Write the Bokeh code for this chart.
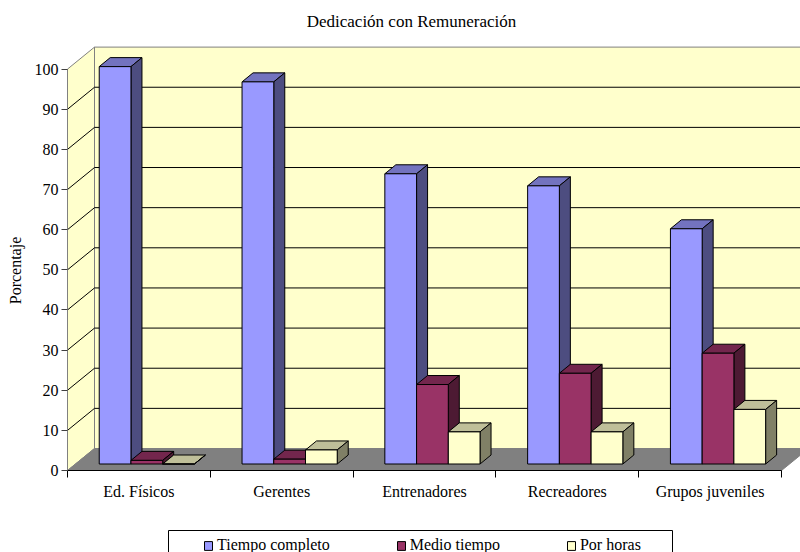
from math import pi
from bokeh.plotting import figure
from bokeh.models import (ColumnDataSource, FixedTicker, Legend, LegendItem, Label,
                          BoxAnnotation, LinearAxis, Range1d)
from bokeh.embed import file_html
from bokeh.resources import INLINE

categories = ["Ed. Físicos", "Gerentes", "Entrenadores", "Recreadores", "Grupos juveniles"]
series_names = ["Tiempo completo", "Medio tiempo", "Por horas"]
tiempo_completo = [99.0, 95.2, 72.3, 69.3, 58.6]
medio_tiempo = [0.9, 1.2, 19.8, 22.6, 27.6]
por_horas = [0.0, 3.5, 8.0, 8.0, 13.6]
y_ticks = list(range(0, 101, 10))

front = ["#9999FF", "#993366", "#FFFFCC"]
side = ["#4D4D80", "#4D1A33", "#808066"]
top = ["#7373BF", "#73264D", "#BFBF99"]

SERIF = "Liberation Serif"
PX_X = 142.8      # pixels per category
PX_Y = 4.014      # pixels per percent
WALL_DX, WALL_DY = 27 / PX_X, 22 / PX_Y
BAR_DX, BAR_DY = 11 / PX_X, 9 / PX_Y
BAR_W = 1 / 4.5
BAR_BASE = 6.5 / PX_Y
n = len(categories)

W, H = 800, 552
ORIGIN_X, ORIGIN_Y = 67, 470
p = figure(width=W, height=H, frame_width=W, frame_height=H,
           min_border=0,
           x_range=Range1d(-ORIGIN_X / PX_X, (W - ORIGIN_X) / PX_X),
           y_range=Range1d(-(H - ORIGIN_Y) / PX_Y, ORIGIN_Y / PX_Y),
           x_axis_type=None, y_axis_type=None,
           output_backend="svg", toolbar_location=None, title=None)
p.grid.visible = False
p.outline_line_color = None

# walls and floor
p.patch([WALL_DX, n + WALL_DX, n + WALL_DX, WALL_DX], [WALL_DY, WALL_DY, 100 + WALL_DY, 100 + WALL_DY],
        fill_color="#FFFFCC", line_color="#808080", line_width=1)
p.patch([0, WALL_DX, WALL_DX, 0], [0, WALL_DY, 100 + WALL_DY, 100],
        fill_color="#FFFFCC", line_color="#808080", line_width=1)
p.patch([0, n, n + WALL_DX, WALL_DX], [0, 0, WALL_DY, WALL_DY],
        fill_color="#808080", line_color="#808080", line_width=1)

# gridlines on the walls
grid_xs, grid_ys = [], []
for t in y_ticks[1:-1]:
    grid_xs.append([0, WALL_DX, n + WALL_DX])
    grid_ys.append([t, t + WALL_DY, t + WALL_DY])
p.multi_line(grid_xs, grid_ys, line_color="#000000", line_width=1)

# bars
xs, ys, cols = [], [], []
for c in range(n):
    for s, vals in enumerate([tiempo_completo, medio_tiempo, por_horas]):
        x0 = c + BAR_W * (s + 1)
        x1 = x0 + BAR_W
        y0 = BAR_BASE
        y1 = BAR_BASE + vals[c]
        xs.append([x0, x1, x1 + BAR_DX, x0 + BAR_DX])
        ys.append([y1, y1, y1 + BAR_DY, y1 + BAR_DY])
        cols.append(top[s])
        xs.append([x1, x1 + BAR_DX, x1 + BAR_DX, x1])
        ys.append([y0, y0 + BAR_DY, y1 + BAR_DY, y1])
        cols.append(side[s])
        xs.append([x0, x1, x1, x0])
        ys.append([y0, y0, y1, y1])
        cols.append(front[s])
p.patches("xs", "ys", source=ColumnDataSource(dict(xs=xs, ys=ys, c=cols)),
          fill_color="c", line_color="#000000", line_width=1)

# axes, pinned to the data origin inside the full-canvas frame
yaxis = LinearAxis(ticker=FixedTicker(ticks=y_ticks), bounds=(0, 100), fixed_location=0)
yaxis.major_label_text_font = SERIF
yaxis.major_label_text_font_size = "16px"
yaxis.major_label_text_color = "#000000"
yaxis.major_tick_in = 0
yaxis.major_tick_out = 6
yaxis.major_tick_line_color = "#404040"
yaxis.minor_tick_line_color = None
yaxis.axis_line_color = "#808080"
yaxis.major_label_standoff = 3
p.add_layout(yaxis, "left")

centers = [i + 0.5 for i in range(n)]
xaxis = LinearAxis(ticker=FixedTicker(ticks=centers, minor_ticks=list(range(n + 1))), bounds=(0, n),
                   fixed_location=0)
xaxis.major_label_overrides = {c: name for c, name in zip(centers, categories)}
xaxis.major_label_text_font = SERIF
xaxis.major_label_text_font_size = "16px"
xaxis.major_label_text_color = "#000000"
xaxis.major_tick_line_color = None
xaxis.minor_tick_in = 0
xaxis.minor_tick_out = 7
xaxis.minor_tick_line_color = "#000000"
xaxis.axis_line_color = "#000000"
xaxis.major_label_standoff = 5
p.add_layout(xaxis, "below")

# title and y label
title = Label(x=411, y=H - 21, x_units="screen", y_units="screen", text="Dedicación con Remuneración",
              text_font=SERIF, text_font_size="17px", text_align="center", text_baseline="middle",
              text_color="#000000")
p.add_layout(title)
ylabel = Label(x=15, y=H - 270, x_units="screen", y_units="screen", text="Porcentaje", angle=pi / 2,
               text_font=SERIF, text_font_size="16px", text_align="center", text_baseline="middle",
               text_color="#000000")
p.add_layout(ylabel)

# legend
box = BoxAnnotation(left=168, right=672, top=H - 530, bottom=-10, left_units="screen", right_units="screen",
                    top_units="screen", bottom_units="screen", fill_color="#FFFFFF", fill_alpha=1,
                    line_color="#000000", line_alpha=1, line_width=1)
p.add_layout(box)
nan = float("nan")
items = []
for name, fc in zip(series_names, front):
    r = p.quad(left=[nan], right=[nan], top=[nan], bottom=[nan], fill_color=fc, line_color="#000000")
    items.append(LegendItem(label=name, renderers=[r]))
p.add_layout(Legend(items=items, location=(203, -2), orientation="horizontal", spacing=66,
                    border_line_color=None, background_fill_alpha=0, glyph_width=10, glyph_height=11,
                    label_text_font=SERIF, label_text_font_size="16px", label_text_color="#000000",
                    label_standoff=4, label_height=14, margin=0, padding=0))

open("out.html", "w").write(file_html(p, INLINE))
